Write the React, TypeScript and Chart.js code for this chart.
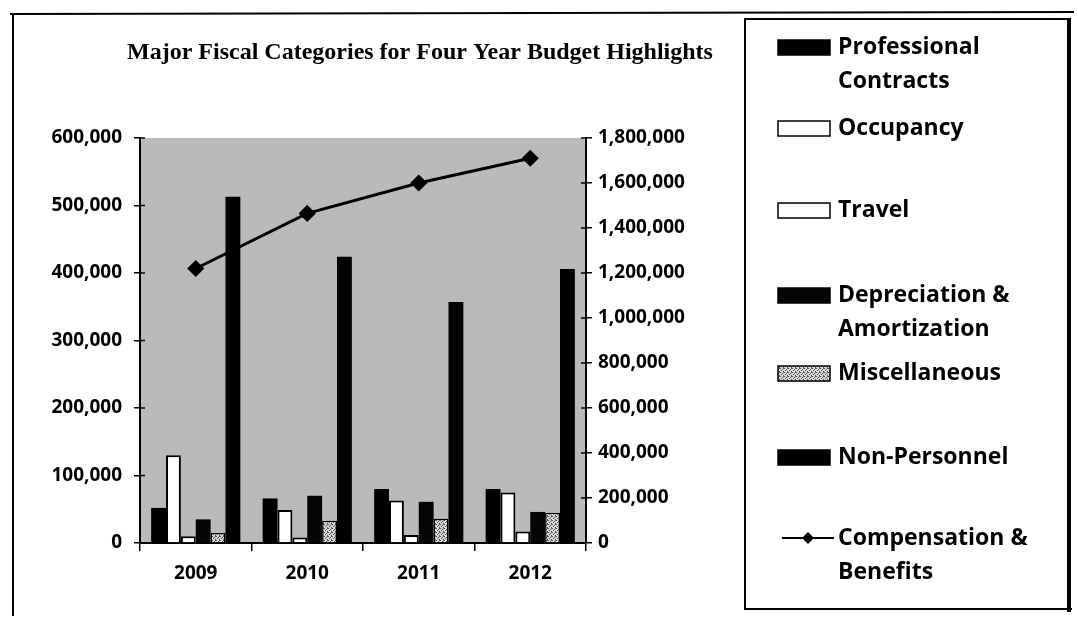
import React, { useEffect, useRef } from 'react';
import { Chart, registerables } from 'chart.js';

Chart.register(...registerables);

// ---- data ----
const YEARS = ['2009', '2010', '2011', '2012'];
const PROFESSIONAL_CONTRACTS = [52000, 66000, 80000, 80000];
const OCCUPANCY = [130000, 49000, 63000, 75000];
const TRAVEL = [10000, 8000, 12000, 17000];
const DEPRECIATION_AMORTIZATION = [35000, 70000, 61000, 46000];
const MISCELLANEOUS = [15000, 33000, 36000, 45000];
const NON_PERSONNEL = [513000, 424000, 357000, 406000];
const COMPENSATION_BENEFITS = [1220000, 1465000, 1600000, 1710000];

const SERIES_NAMES = [
  'Professional Contracts',
  'Occupancy',
  'Travel',
  'Depreciation & Amortization',
  'Miscellaneous',
  'Non-Personnel',
  'Compensation & Benefits',
];
const LEFT_AXIS = { min: 0, max: 600000, step: 100000 };
const RIGHT_AXIS = { min: 0, max: 1800000, step: 200000 };
const TITLE = 'Major Fiscal Categories for Four Year Budget Highlights';

// ---- layout (not data) ----
const W = 1078;
const H = 620;
const PLOT = { left: 140, right: 586, top: 138, bottom: 543 };
const LEGEND_ROW_Y = [47, 128, 210, 295, 373, 457, 538];
const LEGEND_LINE_GAP = 34;
const AXIS_FONT = { family: '"Open Sans", sans-serif', size: 19, weight: 'bold' as const };

function makePattern(): CanvasPattern | string {
  const c = document.createElement('canvas');
  c.width = 4;
  c.height = 4;
  const g = c.getContext('2d');
  if (!g) return '#a0a0a0';
  g.fillStyle = '#d8d8d8';
  g.fillRect(0, 0, 4, 4);
  g.fillStyle = '#555555';
  g.fillRect(0, 0, 1, 1);
  g.fillRect(2, 1, 1, 1);
  g.fillRect(1, 2, 1, 1);
  g.fillRect(3, 3, 1, 1);
  g.fillRect(3, 0, 1, 1);
  const ctx = document.createElement('canvas').getContext('2d');
  const p = ctx ? ctx.createPattern(c, 'repeat') : null;
  return p || '#a0a0a0';
}

export default function App() {
  const ref = useRef<HTMLCanvasElement | null>(null);

  useEffect(() => {
    if (!ref.current) return;
    const miscFill = makePattern();
    const fmt = (v: number | string) => Number(v).toLocaleString('en-US');

    const decor = {
      id: 'decor',
      beforeDraw(chart: any) {
        const { ctx, chartArea } = chart;
        ctx.save();
        ctx.fillStyle = '#ffffff';
        ctx.fillRect(0, 0, W, H);
        ctx.fillStyle = '#bababa';
        ctx.fillRect(chartArea.left, chartArea.top, chartArea.right - chartArea.left, chartArea.bottom - chartArea.top);
        ctx.restore();
      },
      afterDraw(chart: any) {
        const { ctx, chartArea, scales } = chart;
        ctx.save();
        // inner halves of the crossing tick marks
        ctx.strokeStyle = '#000';
        ctx.lineWidth = 1.5;
        scales.y.ticks.forEach((_t: any, i: number) => {
          const yy = scales.y.getPixelForTick(i);
          ctx.beginPath();
          ctx.moveTo(chartArea.left, yy);
          ctx.lineTo(chartArea.left + 5, yy);
          ctx.stroke();
        });
        scales.y1.ticks.forEach((_t: any, i: number) => {
          const yy = scales.y1.getPixelForTick(i);
          ctx.beginPath();
          ctx.moveTo(chartArea.right - 5, yy);
          ctx.lineTo(chartArea.right, yy);
          ctx.stroke();
        });

        // title
        ctx.fillStyle = '#000';
        ctx.font = 'bold 24px "Liberation Serif", serif';
        ctx.textAlign = 'center';
        ctx.textBaseline = 'middle';
        ctx.fillText(TITLE, 420, 53);

        // frames
        ctx.lineWidth = 2;
        ctx.beginPath();
        ctx.moveTo(10, 14);
        ctx.lineTo(1074, 12);
        ctx.stroke();
        ctx.beginPath();
        ctx.moveTo(13, 14);
        ctx.lineTo(13, 616);
        ctx.stroke();
        ctx.beginPath();
        ctx.moveTo(744, 19);
        ctx.lineTo(1070, 19);
        ctx.moveTo(745, 19);
        ctx.lineTo(745, 610);
        ctx.moveTo(744, 609);
        ctx.lineTo(1072, 609);
        ctx.stroke();
        ctx.lineWidth = 4;
        ctx.beginPath();
        ctx.moveTo(1069, 18);
        ctx.lineTo(1069, 612);
        ctx.stroke();

        // legend
        ctx.textAlign = 'left';
        ctx.textBaseline = 'middle';
        ctx.font = 'bold 23px "Open Sans", sans-serif';
        const textX = 838;
        const maxW = 222;
        chart.data.datasets.forEach((ds: any, i: number) => {
          const y = LEGEND_ROW_Y[i];
          const words = String(ds.label).split(' ');
          const lines: string[] = [];
          let cur = '';
          words.forEach((w) => {
            const test = cur ? cur + ' ' + w : w;
            if (ctx.measureText(test).width > maxW && cur) {
              lines.push(cur);
              cur = w;
            } else cur = test;
          });
          if (cur) lines.push(cur);
          ctx.fillStyle = '#000';
          lines.forEach((ln, k) => ctx.fillText(ln, textX, y + k * LEGEND_LINE_GAP));
          if (ds.type === 'line') {
            ctx.strokeStyle = '#000';
            ctx.lineWidth = 2;
            ctx.beginPath();
            ctx.moveTo(782, y);
            ctx.lineTo(834, y);
            ctx.stroke();
            ctx.beginPath();
            ctx.moveTo(808, y - 6);
            ctx.lineTo(814, y);
            ctx.lineTo(808, y + 6);
            ctx.lineTo(802, y);
            ctx.closePath();
            ctx.fillStyle = '#000';
            ctx.fill();
          } else {
            ctx.fillStyle = ds.backgroundColor;
            ctx.fillRect(778, y - 7, 52, 15);
            ctx.strokeStyle = '#000';
            ctx.lineWidth = 1.5;
            ctx.strokeRect(778, y - 7, 52, 15);
          }
        });
        ctx.restore();
      },
    };

    const bar = (label: string, data: number[], bg: any, border = '#000', bw = 0) => ({
      type: 'bar' as const,
      label,
      data,
      backgroundColor: bg,
      borderColor: border,
      borderWidth: bw,
      yAxisID: 'y',
      order: 2,
      categoryPercentage: 0.8,
      barPercentage: 1.0,
    });

    const chart = new Chart(ref.current, {
      type: 'bar',
      data: {
        labels: YEARS,
        datasets: [
          bar(SERIES_NAMES[0], PROFESSIONAL_CONTRACTS, '#000000'),
          bar(SERIES_NAMES[1], OCCUPANCY, '#ffffff', '#000', 2),
          bar(SERIES_NAMES[2], TRAVEL, '#ffffff', '#000', 2),
          bar(SERIES_NAMES[3], DEPRECIATION_AMORTIZATION, '#050505'),
          bar(SERIES_NAMES[4], MISCELLANEOUS, miscFill, '#000', 1.5),
          bar(SERIES_NAMES[5], NON_PERSONNEL, '#000000'),
          {
            type: 'line' as const,
            label: SERIES_NAMES[6],
            data: COMPENSATION_BENEFITS,
            borderColor: '#000',
            backgroundColor: '#000',
            borderWidth: 3,
            pointStyle: 'rectRot',
            pointRadius: 6.5,
            pointBackgroundColor: '#000',
            pointBorderColor: '#000',
            tension: 0,
            yAxisID: 'y1',
            order: 0,
          } as any,
        ],
      },
      options: {
        responsive: false,
        animation: false,
        events: [],
        layout: { padding: { left: 0, right: 0, top: PLOT.top, bottom: 0 } },
        plugins: {
          legend: { display: false },
          title: { display: false },
          tooltip: { enabled: false },
        },
        scales: {
          x: {
            offset: true,
            grid: { display: true, offset: true, drawOnChartArea: false, drawTicks: true, tickLength: 8, color: '#000', lineWidth: 1.5 },
            border: { display: true, color: '#000', width: 2 },
            ticks: { color: '#000', font: AXIS_FONT, padding: 11 },
            afterFit: (s: any) => {
              s.height = H - PLOT.bottom;
            },
          },
          y: {
            position: 'left',
            min: LEFT_AXIS.min,
            max: LEFT_AXIS.max,
            grid: { drawOnChartArea: false, drawTicks: true, tickLength: 6, color: '#000', lineWidth: 1.5 },
            border: { display: true, color: '#000', width: 2 },
            ticks: { stepSize: LEFT_AXIS.step, color: '#000', font: AXIS_FONT, padding: 12, callback: (v: any) => fmt(v) },
            afterFit: (s: any) => {
              s.width = PLOT.left;
            },
          },
          y1: {
            position: 'right',
            min: RIGHT_AXIS.min,
            max: RIGHT_AXIS.max,
            grid: { drawOnChartArea: false, drawTicks: true, tickLength: 6, color: '#000', lineWidth: 1.5 },
            border: { display: true, color: '#000', width: 2 },
            ticks: { stepSize: RIGHT_AXIS.step, color: '#000', font: AXIS_FONT, padding: 6, callback: (v: any) => fmt(v) },
            afterFit: (s: any) => {
              s.width = W - PLOT.right;
            },
          },
        },
      },
      plugins: [decor],
    } as any);

    return () => chart.destroy();
  }, []);

  return (
    <div style={{ position: 'fixed', left: 0, top: 0, width: W, height: H, background: '#fff' }}>
      <canvas ref={ref} width={W} height={H} style={{ display: 'block', width: W, height: H }} />
    </div>
  );
}
